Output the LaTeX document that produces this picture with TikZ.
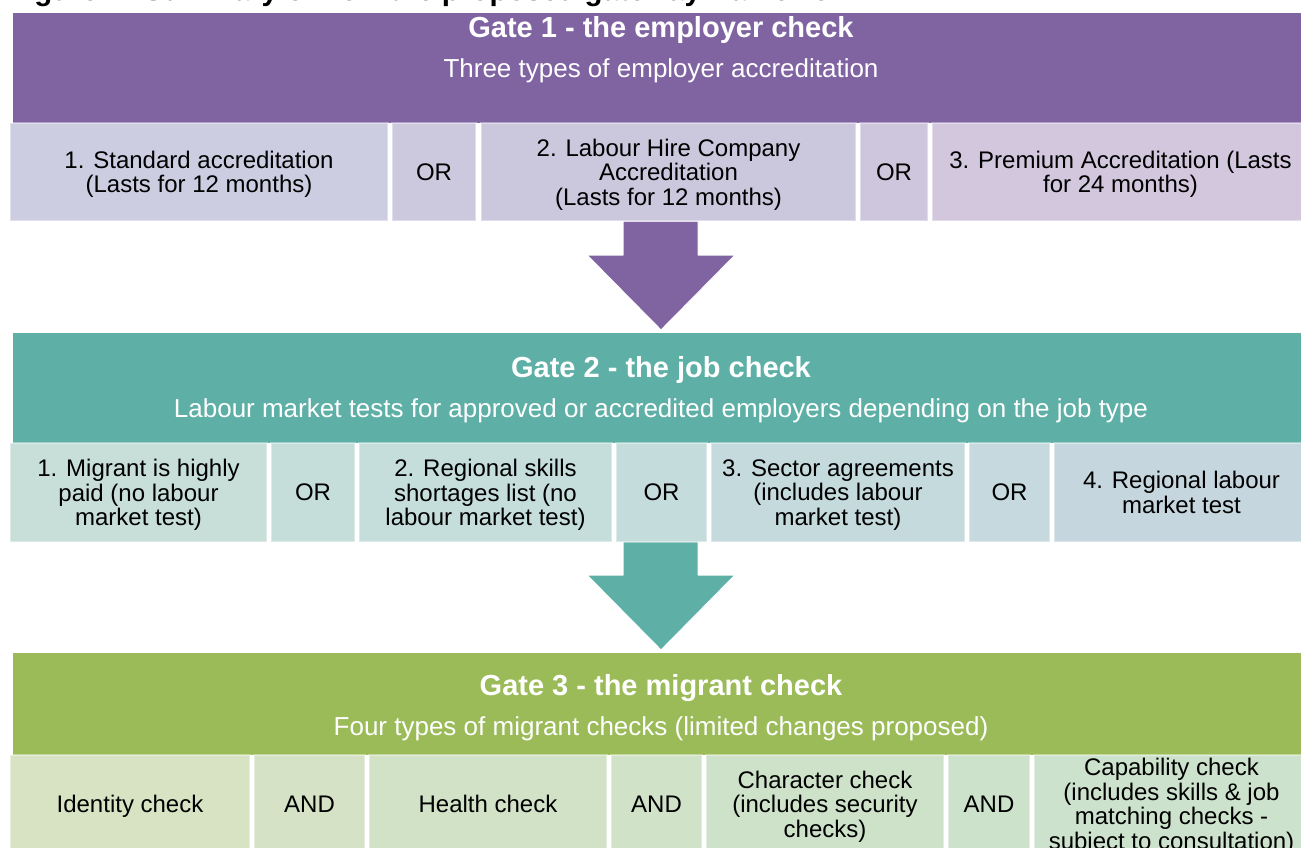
\documentclass[tikz,border=0pt]{standalone}
\usepackage{fontspec}
\setmainfont{Liberation Sans}
\usetikzlibrary{calc}

% gate colours
\definecolor{gpurple}{RGB}{128,100,162}
\definecolor{gteal}{RGB}{94,176,167}
\definecolor{ggreen}{RGB}{155,187,89}
% option cell tints, left to right
\definecolor{pa}{RGB}{204,205,225}
\definecolor{pb}{RGB}{204,201,223}
\definecolor{pc}{RGB}{203,199,221}
\definecolor{pd}{RGB}{206,198,220}
\definecolor{pe}{RGB}{210,199,221}
\definecolor{ta}{RGB}{199,223,216}
\definecolor{tb}{RGB}{198,222,218}
\definecolor{tc}{RGB}{197,222,219}
\definecolor{td}{RGB}{197,220,220}
\definecolor{te}{RGB}{197,218,221}
\definecolor{tf}{RGB}{197,217,222}
\definecolor{tg}{RGB}{198,214,222}
\definecolor{ga}{RGB}{216,227,196}
\definecolor{gb}{RGB}{213,226,197}
\definecolor{gc}{RGB}{210,226,199}
\definecolor{gd}{RGB}{208,226,200}
\definecolor{ge}{RGB}{206,226,202}
\definecolor{gf}{RGB}{205,226,203}
\definecolor{gg}{RGB}{205,226,204}

\newcommand\bodyfont{\fontsize{24}{24.5}\selectfont}
\newcommand\titlefont{\fontsize{29}{31}\selectfont\bfseries}
\newcommand\subfont{\fontsize{26}{28}\selectfont}
\newcommand\capfont{\fontsize{29.5}{31}\selectfont\bfseries}

% \optcell{name}{left}{right}{top}{bottom}{fill}{text}
\newcommand\optcell[7]{%
  \node[optbox, fill=#6, minimum width={(#3-#2)*1pt}, minimum height={(#5-#4)*1pt}]
    (#1) at ({(#2+#3)/2},{(#4+#5)/2}) {};
  \node[opttext] (#1-t) at ($(#1.center)+(0,2.5)$) {#7};}

\tikzset{
  optbox/.style={rectangle, draw=white, draw opacity=0.4, line width=2.5pt,
    inner sep=0pt},
  opttext/.style={inner sep=0pt, align=center, font=\bodyfont, text=black,
    text depth=5pt},
  gatebar/.style={rectangle, inner sep=0pt, draw=none},
  gatetitle/.style={anchor=base, inner sep=0pt, text=white, font=\titlefont},
  gatesub/.style={anchor=base, inner sep=0pt, text=white, font=\subfont},
  blockarrow/.style={draw=white, line width=1pt, line join=round},
}

\begin{document}
\begin{tikzpicture}[x=1pt,y=-1pt]
\useasboundingbox (0,0) rectangle (1301,848);
\clip (0,0) rectangle (1301,848);

% figure caption running off the top edge
\node[anchor=base west, inner sep=0pt, font=\capfont] (caption) at (8,1)
  {Figure 1: Summary of how the proposed gateway framework};

% gate header bars
\node[gatebar, fill=gpurple, minimum width=1296pt, minimum height=110pt] (g1) at (661,68) {};
\node[gatebar, fill=gteal, minimum width=1296pt, minimum height=110pt] (g2) at (661,388) {};
\node[gatebar, fill=ggreen, minimum width=1296pt, minimum height=102pt] (g3) at (661,704) {};

\node[gatetitle] (g1t) at (661,38) {Gate 1 - the employer check};
\node[gatesub] (g1s) at (661,78) {Three types of employer accreditation};
\node[gatetitle] (g2t) at (661,377) {Gate 2 - the job check};
\node[gatesub] (g2s) at (661,417) {Labour market tests for approved or accredited employers depending on the job type};
\node[gatetitle] (g3t) at (661,695) {Gate 3 - the migrant check};
\node[gatesub] (g3s) at (661,735) {Four types of migrant checks (limited changes proposed)};

% block arrows from one gate to the next
\coordinate (a1s) at (661,221);
\coordinate (a1e) at (661,330);
\coordinate (a2s) at (661,541);
\coordinate (a2e) at (661,650);
\foreach \s/\e/\c in {a1s/a1e/gpurple, a2s/a2e/gteal}{
  \filldraw[blockarrow, fill=\c]
    ($(\s)+(-38,0)$) -- ($(\s)+(37,0)$) -- ($(\e)+(37,-75)$) -- ($(\e)+(74,-75)$)
    -- (\e) -- ($(\e)+(-74,-75)$) -- ($(\e)+(-38,-75)$) -- cycle;
}

% Gate 1 options
\optcell{c11}{10}{388}{123}{221}{pa}{1. Standard accreditation\\(Lasts for 12 months)}
\optcell{o11}{392}{476}{123}{221}{pb}{OR}
\optcell{c12}{481}{856}{123}{221}{pc}{2. Labour Hire Company\\Accreditation\\(Lasts for 12 months)}
\optcell{o12}{860}{928}{123}{221}{pd}{OR}
\optcell{c13}{932}{1309}{123}{221}{pe}{3. Premium Accreditation (Lasts\\for 24 months)}

% Gate 2 options
\optcell{c21}{10}{267}{443}{542}{ta}{1. Migrant is highly\\paid (no labour\\market test)}
\optcell{o21}{271}{355}{443}{542}{tb}{OR}
\optcell{c22}{359}{612}{443}{542}{tc}{2. Regional skills\\shortages list (no\\labour market test)}
\optcell{o22}{616}{707}{443}{542}{td}{OR}
\optcell{c23}{711}{965}{443}{542}{te}{3. Sector agreements\\(includes labour\\market test)}
\optcell{o23}{969}{1050}{443}{542}{tf}{OR}
\optcell{c24}{1054}{1309}{443}{542}{tg}{4. Regional labour\\market test}

% Gate 3 checks
\optcell{c31}{10}{250}{755}{853}{ga}{Identity check}
\optcell{o31}{254}{365}{755}{853}{gb}{AND}
\optcell{c32}{369}{607}{755}{853}{gc}{Health check}
\optcell{o32}{611}{702}{755}{853}{gd}{AND}
\optcell{c33}{706}{944}{755}{853}{ge}{Character check\\(includes security\\checks)}
\optcell{o33}{948}{1030}{755}{853}{gf}{AND}
\optcell{c34}{1034}{1309}{755}{853}{gg}{Capability check\\(includes skills \& job\\matching checks -\\subject to consultation)}
\end{tikzpicture}
\end{document}
